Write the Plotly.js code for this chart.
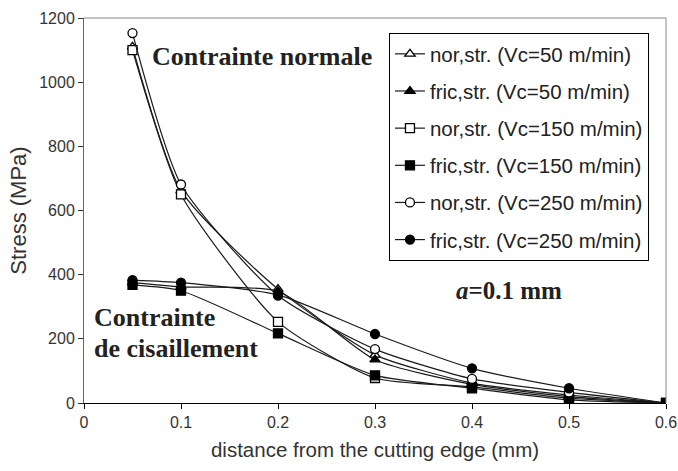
<!DOCTYPE html>
<html>
<head>
<meta charset="utf-8">
<script src="https://cdn.plot.ly/plotly-3.0.1.min.js"></script>
<style>html,body{margin:0;padding:0;background:#fff;}#chart{width:678px;height:471px;}</style>
</head>
<body>
<div id="chart"></div>
<script>
// distance from the cutting edge (mm)
const distance = [0.05, 0.1, 0.2, 0.3, 0.4, 0.5, 0.6];
// stresses (MPa)
const norVc50  = [1110, 662, 355, 150, 62, 25, 0];
const fricVc50 = [375, 362, 348, 135, 58, 20, 0];
const norVc150 = [1100, 650, 253, 78, 50, 15, 0];
const fricVc150 = [368, 350, 217, 86, 46, 10, 0];
const norVc250 = [1153, 681, 335, 168, 75, 33, 0];
const fricVc250 = [383, 375, 337, 215, 108, 46, 0];

const seriesNames = [
  'nor,str. (Vc=50 m/min)',
  'fric,str. (Vc=50 m/min)',
  'nor,str. (Vc=150 m/min)',
  'fric,str. (Vc=150 m/min)',
  'nor,str. (Vc=250 m/min)',
  'fric,str. (Vc=250 m/min)'
];
const seriesValues = [norVc50, fricVc50, norVc150, fricVc150, norVc250, fricVc250];
const seriesSymbols = ['triangle-up', 'triangle-up', 'square', 'square', 'circle', 'circle'];
const seriesOpen = [true, false, true, false, true, false];

const traces = seriesValues.map((vals, i) => ({
  x: distance,
  y: vals,
  type: 'scatter',
  mode: 'lines+markers',
  name: seriesNames[i],
  legendgroup: 'g' + i,
  line: {color: '#1a1a1a', width: 1.2, shape: 'spline', smoothing: 0.6},
  marker: {
    symbol: seriesSymbols[i],
    size: 9,
    color: seriesOpen[i] ? '#ffffff' : '#000000',
    line: {color: '#000000', width: 1.3}
  }
}));

const serif = 'Liberation Serif, Times New Roman, serif';
const sans = 'Liberation Sans, Arial, sans-serif';

const layout = {
  width: 678,
  height: 471,
  margin: {l: 84, r: 12, t: 18, b: 68},
  paper_bgcolor: '#ffffff',
  plot_bgcolor: '#ffffff',
  showlegend: true,
  legend: {
    x: 0.524, y: 0.961, xanchor: 'left', yanchor: 'top',
    bgcolor: '#ffffff', bordercolor: '#000000', borderwidth: 1,
    font: {family: sans, size: 20.5, color: '#222'},
    tracegroupgap: 7.5,
    traceorder: 'grouped'
  },
  xaxis: {
    range: [0, 0.6],
    dtick: 0.1,
    tick0: 0,
    showgrid: false,
    zeroline: false,
    showline: true,
    linecolor: '#000000',
    linewidth: 1.2,
    ticks: 'outside',
    ticklen: 5,
    tickcolor: '#000',
    tickfont: {family: sans, size: 16, color: '#333'},
    title: {text: 'distance from the cutting edge (mm)', font: {family: sans, size: 20.5, color: '#333'}, standoff: 12}
  },
  yaxis: {
    range: [0, 1200],
    dtick: 200,
    showgrid: false,
    zeroline: false,
    showline: true,
    linecolor: '#666666',
    linewidth: 1,
    ticks: 'outside',
    ticklen: 5,
    tickcolor: '#333',
    tickfont: {family: sans, size: 16, color: '#333'},
    title: {text: 'Stress (MPa)', font: {family: sans, size: 22, color: '#333'}, standoff: 6}
  },
  shapes: [
    {type: 'line', xref: 'paper', yref: 'paper', x0: 0, x1: 1, y0: 1, y1: 1, line: {color: '#888', width: 1}},
    {type: 'line', xref: 'paper', yref: 'paper', x0: 1, x1: 1, y0: 0, y1: 1, line: {color: '#888', width: 1}}
  ],
  annotations: [
    {x: 0.184, y: 1081, xref: 'x', yref: 'y', text: '<b>Contrainte normale</b>', showarrow: false,
     font: {family: serif, size: 26, color: '#222'}, xanchor: 'center', yanchor: 'middle'},
    {x: 0.008, y: 268, xref: 'x', yref: 'y', text: '<b>Contrainte</b>', showarrow: false,
     font: {family: serif, size: 26, color: '#222'}, xanchor: 'left', yanchor: 'middle'},
    {x: 0.008, y: 170, xref: 'x', yref: 'y', text: '<b>de cisaillement</b>', showarrow: false,
     font: {family: serif, size: 26, color: '#222'}, xanchor: 'left', yanchor: 'middle'},
    {x: 0.438, y: 350, xref: 'x', yref: 'y', text: '<b><i>a</i>=0.1 mm</b>', showarrow: false,
     font: {family: serif, size: 25, color: '#222'}, xanchor: 'center', yanchor: 'middle'}
  ]
};

Plotly.newPlot('chart', traces, layout, {displayModeBar: false, staticPlot: true});
</script>
</body>
</html>
